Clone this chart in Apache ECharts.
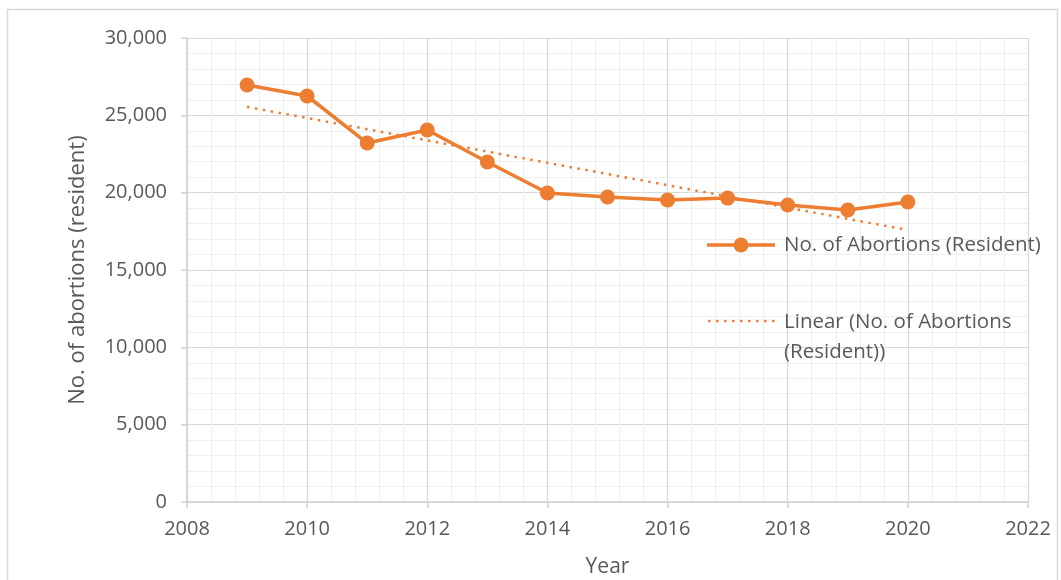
<!DOCTYPE html>
<html>
<head>
<meta charset="utf-8">
<style>
  html, body { margin: 0; padding: 0; background: #fff; }
  #chart { width: 1061px; height: 580px; }
</style>
<script src="https://cdn.jsdelivr.net/npm/echarts@6/dist/echarts.min.js"></script>
</head>
<body>
<div id="chart"></div>
<script>
// Resident abortions per year
const years = [2009, 2010, 2011, 2012, 2013, 2014, 2015, 2016, 2017, 2018, 2019, 2020];
const abortions = [26960, 26250, 23210, 24050, 21980, 19980, 19720, 19530, 19650, 19200, 18880, 19400];

const seriesName = 'No. of Abortions (Resident)';
const trendName = 'Linear (No. of Abortions (Resident))';
const trendLegendText = 'Linear (No. of Abortions\n(Resident))';
const xAxisTitle = 'Year';
const yAxisTitle = 'No. of abortions (resident)';

// Least-squares linear trend through the yearly values
function linearTrend(xs, ys) {
  const n = xs.length;
  const mx = xs.reduce((a, b) => a + b, 0) / n;
  const my = ys.reduce((a, b) => a + b, 0) / n;
  let sxy = 0, sxx = 0;
  for (let i = 0; i < n; i++) {
    sxy += (xs[i] - mx) * (ys[i] - my);
    sxx += (xs[i] - mx) * (xs[i] - mx);
  }
  const slope = sxy / sxx;
  const b = my - slope * mx;
  return xs.map(x => [x, b + slope * x]);
}

const orange = '#ED7D31';
const textGrey = '#595959';
const font = 'Open Sans';
const trendDash = [2.5, 5.5];

// Legend drawn as graphic items so each key matches its series style
const legendX = 707, legendY1 = 245, legendY2 = 321;
const legendGraphics = [
  { type: 'line', shape: { x1: legendX, y1: legendY1, x2: legendX + 68, y2: legendY1 },
    style: { stroke: orange, lineWidth: 3.5 } },
  { type: 'circle', shape: { cx: legendX + 34, cy: legendY1, r: 7.5 },
    style: { fill: orange } },
  { type: 'text', x: legendX + 77, y: legendY1,
    style: { text: seriesName, fill: textGrey, fontSize: 20.5, fontFamily: font, verticalAlign: 'middle' } },
  { type: 'line', shape: { x1: legendX + 1, y1: legendY2, x2: legendX + 68, y2: legendY2 },
    style: { stroke: orange, lineWidth: 2.5, lineDash: trendDash } },
  { type: 'text', x: legendX + 77, y: legendY2 - 14,
    style: { text: trendLegendText, fill: textGrey, fontSize: 20.5, fontFamily: font, lineHeight: 30, verticalAlign: 'top' } }
];

const chart = echarts.init(document.getElementById('chart'));
chart.setOption({
  animation: false,
  backgroundColor: '#fff',
  textStyle: { fontFamily: font },
  graphic: [{
    type: 'rect',
    shape: { x: 7.5, y: 9.5, width: 1050, height: 600 },
    style: { fill: 'none', stroke: '#d9d9d9', lineWidth: 1.5 },
    silent: true
  }].concat(legendGraphics.map(g => Object.assign({ silent: true, z: 10 }, g))),
  grid: { left: 187, top: 38, right: 33, bottom: 78, containLabel: false, outerBoundsMode: 'none' },
  xAxis: {
    type: 'value',
    min: 2008,
    max: 2022,
    interval: 2,
    name: xAxisTitle,
    nameLocation: 'middle',
    nameGap: 55,
    nameTextStyle: { color: textGrey, fontSize: 21, fontFamily: font },
    axisLine: { show: true, lineStyle: { color: '#d0d0d0', width: 1.5 } },
    axisTick: { show: true, length: 6, lineStyle: { color: '#d0d0d0', width: 1.5 } },
    axisLabel: { color: textGrey, fontSize: 20, margin: 17, formatter: v => String(v) },
    splitLine: { show: true, lineStyle: { color: '#d9d9d9', width: 1.2 } },
    minorTick: { show: false, splitNumber: 5 },
    minorSplitLine: { show: true, lineStyle: { color: '#efefef', width: 1 } }
  },
  yAxis: {
    type: 'value',
    min: 0,
    max: 30000,
    interval: 5000,
    name: yAxisTitle,
    nameLocation: 'middle',
    nameGap: 98,
    nameTextStyle: { color: textGrey, fontSize: 22, fontFamily: font },
    axisLine: { show: true, lineStyle: { color: '#d0d0d0', width: 1.5 } },
    axisTick: { show: true, length: 6, lineStyle: { color: '#d0d0d0', width: 1.5 } },
    axisLabel: { color: textGrey, fontSize: 20, margin: 20, formatter: v => v.toLocaleString('en-US') },
    splitLine: { show: true, lineStyle: { color: '#d9d9d9', width: 1.2 } },
    minorTick: { show: false, splitNumber: 5 },
    minorSplitLine: { show: true, lineStyle: { color: '#efefef', width: 1 } }
  },
  series: [
    {
      name: seriesName,
      type: 'line',
      data: years.map((y, i) => [y, abortions[i]]),
      symbol: 'circle',
      symbolSize: 15,
      itemStyle: { color: orange },
      lineStyle: { color: orange, width: 3.5 },
      z: 3
    },
    {
      name: trendName,
      type: 'line',
      data: linearTrend(years, abortions),
      symbol: 'none',
      itemStyle: { color: orange },
      lineStyle: { color: orange, width: 2.5, type: trendDash },
      z: 2
    }
  ]
});
</script>
</body>
</html>
